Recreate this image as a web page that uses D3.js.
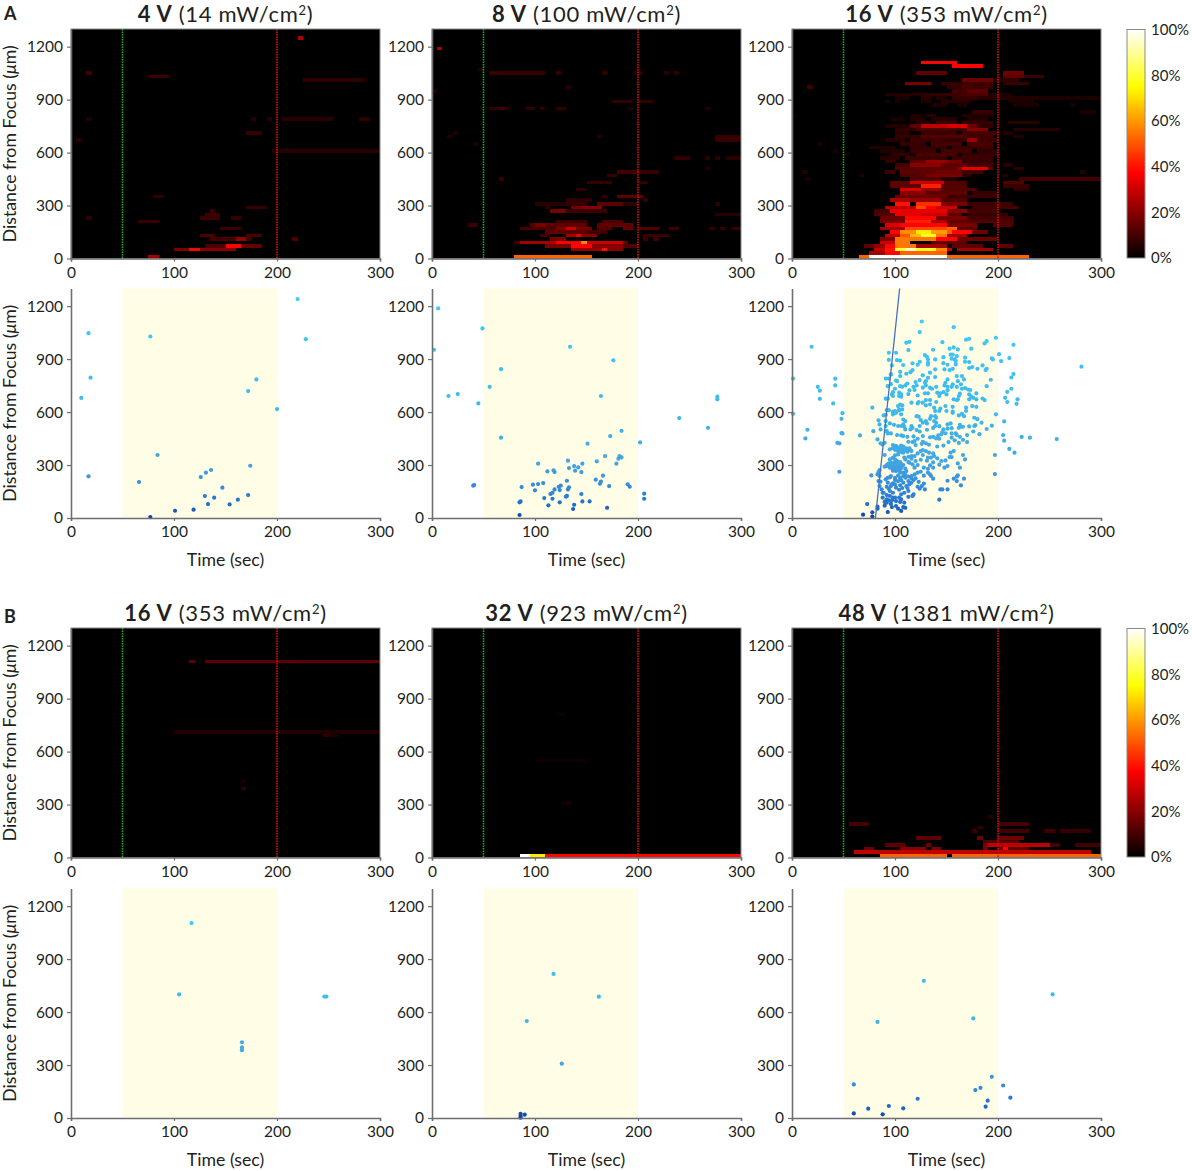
<!DOCTYPE html>
<html>
<head>
<meta charset="utf-8">
<style>
  html, body { margin: 0; padding: 0; background: #fff; }
  svg { display: block; }
  text { font-family: Lato, "Open Sans", sans-serif; fill: #231f20; }
</style>
</head>
<body>
<svg width="1192" height="1171"></svg>
<script src="https://d3js.org/d3.v7.min.js"></script>
<script>
// heat rows: [distance bin, t start, t end, percent]
var heatA4 = [
  [1240,220,225,25],[1040,15,20,10],[1020,75,95,9],[1000,225,285,7],
  [780,15,20,5],[780,175,180,6],[780,190,195,6],[780,205,255,6],[780,280,290,7],
  [700,170,185,8],[660,5,10,7],[600,195,300,6],[340,80,90,7],[280,170,190,8],
  [260,135,140,9],[240,130,145,9],[220,125,145,9],[220,155,165,8],[220,15,20,7],
  [200,65,85,8],[160,145,165,9],[120,125,140,11],[120,170,185,11],
  [100,135,160,10],[100,160,170,22],[100,170,175,10],[100,215,220,12],
  [60,130,150,11],[60,150,165,38],[60,165,185,15],
  [40,100,115,18],[40,115,125,38],[40,125,160,20],[0,75,85,24]
];
var heatA8 = [
  [1180,5,10,25],[1060,45,50,5],[1040,55,110,8],[1040,120,125,8],[1040,165,170,8],
  [1040,195,205,6],[1040,225,230,6],[1040,235,240,7],[960,130,135,6],[940,0,5,5],
  [880,175,195,7],[880,200,215,7],[840,55,75,7],[840,65,70,10],[840,90,100,7],
  [840,105,110,7],[840,120,130,7],[840,190,195,5],[840,265,270,6],
  [700,20,25,5],[680,15,20,5],[680,160,165,6],[680,275,300,8],[660,275,300,8],[640,40,45,5],
  [560,235,250,7],[560,265,270,6],[560,275,280,6],[560,285,300,6],[500,265,270,5],
  [480,180,200,10],[480,200,220,8],[460,170,180,8],[440,65,70,8],
  [420,150,175,8],[420,200,210,7],[380,140,150,7],[340,165,170,8],[340,180,205,14],
  [320,205,210,8],[320,130,155,7],
  [300,100,130,6],[300,130,150,8],[300,160,185,14],[300,185,200,7],[300,275,280,7],
  [280,110,115,7],[280,135,145,17],[280,145,165,20],
  [260,115,130,18],[260,130,170,9],[240,275,300,6],
  [200,120,150,9],[200,165,185,11],
  [180,35,45,9],[180,95,100,12],[180,100,110,18],[180,110,150,14],[180,160,195,14],
  [160,85,95,10],[160,95,120,11],[160,120,130,18],[160,130,140,30],[160,140,155,18],
  [160,160,175,12],[160,185,195,15],[160,200,220,12],[160,230,240,9],[160,270,275,8],
  [160,280,285,8],[160,290,300,8],
  [140,110,150,14],[140,150,170,10],
  [120,105,115,10],[120,130,140,24],[120,140,145,35],[120,145,160,20],[120,205,230,9],
  [100,115,130,18],[100,205,210,9],[100,215,220,9],
  [80,80,85,10],[80,85,120,24],[80,120,145,37],[80,145,150,58],[80,150,185,30],[80,185,190,14],
  [60,110,135,18],[60,135,155,38],[60,155,185,20],[60,185,200,12],
  [40,135,165,22],[40,165,170,40],[40,170,185,20],[0,80,155,52]
];
var heatA16 = [
  [1100,125,160,38],[1080,155,185,38],[1040,120,150,14],[1040,205,225,16],
  [1020,205,225,14],[1020,225,245,9],
  [1000,165,195,16],[1000,195,205,6],[1000,205,220,7],
  [980,110,135,18],[980,145,165,8],[980,165,195,9],[980,205,230,8],
  [960,15,20,10],[960,150,165,7],[960,165,175,11],[960,175,195,9],
  [940,155,170,10],[940,170,190,14],
  [920,90,125,5],[920,125,150,7],[920,150,165,9],[920,165,190,11],[920,190,205,6],[920,205,215,4],
  [900,100,115,4],[900,125,135,6],[900,140,150,5],[900,155,180,8],[900,180,195,6],[900,195,240,5],[900,240,300,4],
  [880,90,95,4],[880,100,105,4],[880,125,135,5],[880,145,175,6],[880,210,235,4],
  [860,135,150,5],[860,160,170,4],[860,215,240,4],[860,270,275,4],
  [820,175,195,8],[820,280,295,4],
  [800,115,125,5],[800,130,140,6],[800,165,195,5],[800,0,5,3],
  [780,95,110,4],[780,115,130,5],[780,135,160,6],[780,170,190,5],
  [760,120,135,6],[760,140,160,9],[760,165,195,8],[760,210,240,6],
  [740,90,115,5],[740,115,125,14],[740,125,150,28],[740,150,170,32],[740,170,180,16],[740,180,195,7],
  [720,100,120,7],[720,120,150,11],[720,150,170,10],[720,170,190,20],[720,215,260,6],
  [700,100,115,6],[700,125,160,9],[700,165,200,10],[700,205,215,5],
  [680,100,125,8],[680,125,170,12],[680,170,195,10],[680,215,225,5],
  [660,90,110,6],[660,115,150,9],[660,150,170,8],[660,170,180,22],[660,180,200,9],
  [640,105,130,8],[640,135,165,10],[640,170,195,11],[640,25,30,4],
  [620,75,100,5],[620,115,150,8],[620,155,195,9],
  [600,85,110,5],[600,115,140,9],[600,145,175,10],[600,180,200,7],[600,40,45,4],
  [580,95,115,7],[580,120,160,11],[580,165,200,8],[580,50,55,5],
  [560,85,105,6],[560,110,150,9],[560,155,195,9],
  [540,90,100,8],[540,115,130,14],[540,130,150,22],[540,150,165,18],[540,165,195,8],
  [520,100,115,10],[520,115,145,20],[520,145,170,14],[520,170,195,10],[520,205,215,6],
  [500,100,120,12],[500,120,160,14],[500,160,165,20],[500,165,190,34],[500,190,195,14],[500,215,225,6],
  [480,90,100,10],[480,105,140,14],[480,140,165,16],[480,165,185,10],[480,10,15,5],[480,280,285,5],
  [460,105,130,12],[460,130,165,18],[460,165,175,7],[460,205,210,6],[460,65,70,5],
  [440,115,145,12],[440,145,160,6],[440,220,300,10],[440,13,17,4],
  [420,95,115,14],[420,115,148,30],[420,148,170,12],[420,205,225,12],
  [400,95,125,14],[400,125,145,42],[400,145,170,12],[400,205,230,8],
  [380,105,125,32],[380,125,145,22],[380,145,180,12],[380,215,230,7],
  [360,105,130,20],[360,130,170,14],[360,175,200,8],
  [340,100,150,16],[340,150,200,9],
  [320,95,115,25],[320,115,145,22],[320,145,170,12],
  [300,100,115,40],[300,120,145,44],[300,145,170,18],[300,170,215,9],
  [280,90,120,28],[280,120,130,48],[280,130,140,38],[280,140,160,30],[280,175,220,10],
  [260,80,95,10],[260,95,150,34],[260,150,170,20],[260,170,200,10],
  [240,80,100,12],[240,100,125,34],[240,125,150,30],[240,150,165,14],[240,170,210,8],
  [220,85,110,16],[220,110,140,38],[220,140,170,18],[220,170,215,10],
  [200,85,110,18],[200,110,135,42],[200,135,150,25],[200,150,170,14],[200,170,215,12],
  [180,90,105,32],[180,105,150,38],[180,150,180,18],[180,195,215,12],
  [160,85,110,24],[160,110,150,48],[160,150,160,52],[160,160,180,14],
  [140,95,105,38],[140,105,120,58],[140,120,135,72],[140,135,150,60],[140,150,155,50],[140,155,175,38],[140,175,190,16],
  [120,90,105,28],[120,105,115,50],[120,115,125,65],[120,125,140,78],[120,140,150,55],[120,150,170,24],
  [100,85,100,18],[100,100,115,55],[100,115,140,55],[100,140,150,38],[100,150,160,38],[100,160,200,16],
  [80,85,100,30],[80,100,115,55],[80,135,170,14],
  [60,70,80,14],[60,80,90,22],[60,90,100,38],[60,100,120,55],[60,120,150,24],[60,155,185,14],[60,200,215,14],
  [40,80,90,28],[40,90,100,40],[40,100,110,78],[40,110,120,95],[40,120,140,78],[40,140,150,58],[40,150,155,30],[40,160,195,24],
  [20,75,90,24],[20,90,105,38],[20,105,150,52],
  [0,65,75,52],[0,75,150,100],[0,150,230,52]
];
var heatB16 = [
  [1100,115,120,14],[1100,130,300,14],[700,100,300,5],[680,245,250,7],[680,250,260,4],
  [420,165,170,4],[380,165,170,7]
];
var heatB32 = [
  [800,120,130,2],[540,100,150,2],[300,125,135,3],
  [0,85,95,100],[0,95,110,72],[0,110,300,38]
];
var heatB48 = [
  [220,190,195,5],[180,55,75,10],[180,200,230,10],[160,180,185,7],
  [140,175,180,9],[140,200,230,10],[140,245,255,9],[140,260,290,8],
  [100,120,145,14],[100,180,185,16],[100,200,225,16],[80,185,220,12],
  [60,90,110,14],[60,130,135,16],[60,185,190,18],[60,190,250,28],[60,250,260,10],[60,275,300,10],
  [40,70,80,16],[40,105,130,20],[40,135,145,18],[40,185,190,18],[40,200,205,14],[40,205,210,38],[40,210,230,14],
  [20,60,290,28],[0,85,150,52],[0,155,300,52]
];

// scatter points: [time, distance]
var ptsA4 = [[10,680],[17,1047],[19,795],[17,236],[66,204],[77,1028],[77,5],[84,357],[101,41],[119,47],[126,232],[130,124],[131,257],[133,79],[136,272],[139,115],[147,172],[154,77],[162,104],[172,130],[172,719],[174,296],[180,785],[200,617],[220,1240],[228,1013]];
var ptsA8 = [[6,1187],[2,953],[16,691],[25,702],[40,183],[41,187],[45,649],[49,1074],[56,743],[67,843],[67,455],[85,17],[85,89],[86,94],[87,175],[98,189],[100,157],[103,192],[103,308],[108,198],[109,113],[112,264],[113,72],[115,136],[117,143],[117,109],[118,270],[119,260],[119,162],[123,177],[124,89],[124,158],[125,183],[130,121],[131,125],[131,211],[132,162],[133,174],[132,325],[133,283],[134,970],[137,51],[138,75],[138,294],[139,268],[142,287],[145,260],[145,136],[146,308],[146,94],[151,421],[153,94],[159,217],[160,321],[163,194],[164,206],[164,691],[166,240],[168,351],[170,58],[172,181],[173,464],[176,893],[179,308],[181,336],[182,351],[184,343],[184,494],[190,191],[192,177],[202,428],[206,138],[206,109],[240,566],[268,511],[277,687],[277,672]];
var ptsA16 = [
  [1,790],[1,590],[19,970],[25,743],[27,721],[27,675],[40,649],[42,789],[42,751],[49,594],[48,562],[15,500],[13,451],[44,425],[46,423],[48,481],[49,479],[46,262],
  [66,468],[77,241],[78,625],[79,492],[73,79],[69,19],[78,32],[78,8],[83,64],[83,53],
  [281,857],[257,447],[231,455],[223,459],[216,370],[211,391],[206,438],[205,470],[197,357],[197,249],[198,587],[194,523],[189,504],[198,1021],[201,928],[203,889],[206,547],[209,657],[207,681],[209,715],[213,732],[213,796],[215,815],[211,906],[215,981],[219,672],[218,647],[193,783],[189,747],[189,845],[188,838],[194,904],[195,898],[189,1002],[187,989],[185,677],[187,668],
  [126,1113],[124,1053],[157,1081],[111,993],[114,998],[113,951],[146,996],[169,1010],[172,1015],[174,959],[153,959],[157,966],[161,955],[137,953],[129,923],[94,936],[101,936],[94,896],[97,864],[102,894],[105,892],[108,866],[117,876],[122,868],[124,885],[131,913],[132,898],[132,879],[132,868],[139,898],[147,911],[154,925],[156,925],[147,877],[148,842],[151,868],[153,838],[156,845],[159,870],[155,902],[158,898],[160,917],[159,889],[168,908],[168,885],[172,883],[172,849],[175,855],[180,845],[185,864],[111,817],[117,838],[115,826],[105,828],[96,813],[91,790],[94,790],[96,813],[101,779],[105,804],[139,842],[134,823],[132,794],[130,775],[139,798],[124,781],[127,808],[129,766],[151,785],[160,804],[165,804],[167,785],[161,775],[164,757],[160,743],
  [93,747],[96,758],[98,713],[100,732],[102,775],[105,747],[107,743],[110,751],[112,762],[118,743],[120,770],[121,751],[119,725],[114,723],[113,702],[127,738],[130,751],[134,738],[136,732],[140,743],[148,751],[149,766],[151,743],[155,743],[156,757],[141,710],[144,706],[147,713],[151,723],[150,700],[157,672],[160,668],[163,704],[165,732],[168,736],[171,728],[173,725],[172,700],[174,687],[176,681],[179,706],[179,672],[172,672],[161,672],[162,691],
  [91,676],[93,676],[98,691],[97,700],[104,710],[104,691],[106,687],[106,700],[116,653],[122,694],[123,657],[127,653],[130,668],[134,668],[134,643],[140,657],[143,691],[132,706],[129,706],[105,643],[107,638],[103,634],[92,611],[94,611],[98,602],[100,606],[104,609],[107,615],[122,649],[130,638],[138,625],[143,606],[144,619],[139,606],[149,634],[156,630],[156,602],[150,606],[169,625],[175,634],[179,630],[165,590],[162,581],[167,577],[169,606],[177,568],[178,526],[177,521],[172,519],[166,517],[164,517],[163,528],[162,511],[156,596],
  [89,581],[91,585],[98,587],[101,596],[104,615],[106,587],[108,558],[108,530],[109,517],[110,549],[106,521],[103,521],[99,528],[95,536],[91,549],[84,553],[85,530],[86,502],[91,521],[92,492],[93,479],[96,479],[102,470],[106,468],[108,464],[112,460],[110,502],[116,521],[115,502],[117,511],[121,577],[123,574],[125,555],[124,521],[121,498],[122,449],[119,436],[117,430],[127,464],[127,540],[130,549],[131,536],[134,562],[135,577],[139,577],[140,568],[138,549],[140,540],[139,521],[134,457],[137,460],[140,451],[142,468],[143,449],[145,474],[147,502],[146,487],[151,530],[154,536],[151,506],[155,509],[155,479],[159,479],[160,470],[163,460],[166,443],[130,423],[127,432],[120,413],
  [83,445],[86,423],[88,417],[90,426],[95,389],[98,413],[100,398],[101,408],[104,389],[106,398],[108,389],[111,394],[114,385],[108,370],[106,374],[103,360],[100,355],[90,357],[95,332],[98,341],[100,332],[102,323],[104,308],[100,313],[96,309],[93,304],[90,291],[92,294],[95,298],[98,294],[101,298],[105,298],[101,285],[98,276],[101,266],[105,276],[109,342],[110,332],[113,347],[116,351],[119,351],[122,366],[125,379],[127,385],[130,379],[133,370],[137,366],[127,357],[132,342],[135,342],[138,351],[141,338],[145,323],[149,326],[151,294],[154,370],[157,379],[153,345],[155,345],[166,357],[168,332],[161,309],[163,285],[120,323],[117,304],[114,313],[116,336],[113,317],[122,300],[128,285],[132,279],[134,298],[137,285],[132,257],[134,247],[135,238],[137,223],[119,285],[119,247],[122,257],[116,238],[111,266],[108,257],[105,257],[108,238],[110,228],[113,209],[116,200],[114,191],[111,181],[105,228],[103,209],[100,228],[96,238],[93,228],[85,272],[84,260],[83,247],[85,238],[84,209],[86,206],[85,181],[87,162],[91,219],[93,200],[96,181],[98,196],[101,172],[105,185],[108,200],[109,143],[113,153],[106,134],[104,115],[101,96],[98,143],[95,153],[92,177],[89,143],[88,115],[92,106],[95,125],[98,115],[92,87],[90,91],[88,143],[101,68],[105,91],[108,62],[103,53],[106,40],[110,58],[109,87],[93,34],[97,62],[122,177],[126,181],[129,162],[117,125],[118,134],[124,166],[143,104],[144,162],[146,162],[151,162],[151,211],[157,223],[160,234],[160,209],[164,185],[167,223],[161,242],
  // the two dense clumps near 300 and 390
  [92,300],[94,310],[96,300],[97,290],[99,305],[100,290],[102,285],[103,300],[104,292],[106,305],[97,312],[99,280],[103,272],[106,285],[95,285],[100,305],[102,312],[105,316],[98,268],[108,300],[110,280],
  [98,395],[100,386],[103,378],[104,400],[106,382],[108,405],[110,385],[112,375],[114,395],[116,380],[102,392],[106,410],
  [95,230],[100,215],[103,240],[106,215],[110,245],[113,235],[116,225],[118,215],[107,170],[112,170],[104,160],[92,130],[94,100],[97,100],[90,70],[96,80],[100,115],[106,105],[113,120],[97,190],[100,190],[94,165],
  // looser points right of the clumps
  [126,420],[133,415],[141,405],[147,410],[152,430],[158,440],[162,425],[170,430],[125,330],[131,325],[137,315],[143,302],[148,285],[125,262],[128,240],[120,225],[123,205],[128,195],[113,432],[118,462],[124,490],[131,500],[137,510],[143,520],[149,480],[155,455],[170,470],[176,490],[182,475],[184,540],[180,560]
];
var ptsB16 = [[117,1104],[105,700],[166,429],[166,400],[166,384],[246,688],[248,688]];
var ptsB32 = [[118,816],[162,687],[92,549],[126,308],[86,24],[86,11],[86,2],[90,19]];
var ptsB48 = [[128,777],[253,700],[176,564],[83,544],[194,233],[60,190],[205,184],[183,171],[178,158],[212,115],[122,109],[190,98],[94,68],[108,55],[74,53],[188,64],[60,26],[88,21]];

// the fitted onset line on 16 V, as [time, distance]
var fitLine = [[81,0],[104.5,1300]];

var titlesA = [["4 V"," (14 mW/cm","2",")"],["8 V"," (100 mW/cm","2",")"],["16 V"," (353 mW/cm","2",")"]];
var titlesB = [["16 V"," (353 mW/cm","2",")"],["32 V"," (923 mW/cm","2",")"],["48 V"," (1381 mW/cm","2",")"]];
var xTicks = [0,100,200,300];
var yTicks = [0,300,600,900,1200];
var barTicks = [0,20,40,60,80,100];
var stimOn = 50, stimOff = 200;

var svg = d3.select("svg");
var panelW = 309, panelH = 229.5;
var colX = [71, 432, 792];

var x = d3.scaleLinear().domain([0,300]).range([0,panelW]);
var y = d3.scaleLinear().domain([0,1300]).range([panelH,0]);
var hot = d3.scaleLinear().domain([0,37.5,75,100]).range(["#000000","#ff0000","#ffff00","#ffffff"]).clamp(true);
var dotColor = d3.scaleLinear().domain([0,60,150,300,600,1000])
  .range(["#0b3fae","#1d68c6","#2f86d6","#43a3e2","#3fb9ec","#3cc6f6"]);

function drawAxes(g) {
  var ax = g.append("g").attr("transform","translate(0,"+panelH+")")
    .call(d3.axisBottom(x).tickValues(xTicks).tickSize(3).tickPadding(5).tickFormat(d3.format("d")));
  var ay = g.append("g").call(d3.axisLeft(y).tickValues(yTicks).tickSize(4).tickPadding(4).tickSizeOuter(0).tickFormat(d3.format("d")));
  [ax,ay].forEach(function(a) {
    a.selectAll("path").attr("stroke","#6d6e70").attr("stroke-width",1.6);
    a.selectAll("line").attr("stroke","#6d6e70").attr("stroke-width",1.2);
    a.selectAll("text").style("font-size","15.5px").style("font-family","Lato, sans-serif").attr("fill","#231f20");
  });
}

function yLabel(g) {
  var t = g.append("text").attr("transform","translate(-55,"+(panelH/2)+") rotate(-90)")
    .attr("text-anchor","middle").style("font-size","17.7px");
  t.append("tspan").text("Distance from Focus (");
  t.append("tspan").attr("font-style","italic").text("\u03bc");
  t.append("tspan").text("m)");
}

function title(g, parts) {
  var t = g.append("text").attr("x",panelW/2).attr("y",-7.5).attr("text-anchor","middle")
    .style("font-size","22px").style("letter-spacing","0.7px");
  t.append("tspan").attr("font-weight",700).text(parts[0]);
  t.append("tspan").text(parts[1]);
  t.append("tspan").attr("dy",-7).style("font-size","13px").text(parts[2]);
  t.append("tspan").attr("dy",7).text(parts[3]);
}

function heatPanel(px, top, cells, parts, first) {
  var g = svg.append("g").attr("transform","translate("+px+","+top+")");
  g.append("rect").attr("width",panelW).attr("height",panelH).attr("fill","#000");
  g.selectAll("rect.cell").data(cells).join("rect").attr("class","cell")
    .attr("x",function(d){return x(d[1]);})
    .attr("width",function(d){return x(d[2])-x(d[1]);})
    .attr("y",function(d){return y(d[0]+20);})
    .attr("height",function(d){return y(d[0])-y(d[0]+20);})
    .attr("fill",function(d){return hot(d[3]);})
    .attr("shape-rendering","crispEdges");
  [[stimOn,"#19b319"],[stimOff,"#d60f0f"]].forEach(function(m) {
    g.append("line").attr("x1",x(m[0])).attr("x2",x(m[0])).attr("y1",0).attr("y2",panelH)
      .attr("stroke",m[1]).attr("stroke-width",1.6).attr("stroke-dasharray","1.5 1");
  });
  g.append("rect").attr("width",panelW).attr("height",panelH).attr("fill","none")
    .attr("stroke","#8a8a8a").attr("stroke-width",1);
  drawAxes(g);
  title(g, parts);
  if (first) yLabel(g);
}

function dotPanel(px, top, pts, first, line) {
  var g = svg.append("g").attr("transform","translate("+px+","+top+")");
  g.append("rect").attr("x",x(stimOn)).attr("width",x(stimOff)-x(stimOn)).attr("height",panelH).attr("fill","#fffde6");
  g.selectAll("circle").data(pts).join("circle")
    .attr("cx",function(d){return x(d[0]);})
    .attr("cy",function(d){return y(d[1]);})
    .attr("r",2.1)
    .attr("fill",function(d){return dotColor(d[1]);});
  if (line) {
    g.append("path").datum(line)
      .attr("d",d3.line().x(function(d){return x(d[0]);}).y(function(d){return y(d[1]);}))
      .attr("fill","none").attr("stroke","#4472c0").attr("stroke-width",1.3);
  }
  drawAxes(g);
  g.append("text").attr("x",panelW/2).attr("y",panelH+47.5).attr("text-anchor","middle").style("font-size","17.7px").text("Time (sec)");
  if (first) yLabel(g);
}

function colorBar(top, id) {
  var grad = svg.append("defs").append("linearGradient").attr("id",id)
    .attr("x1",0).attr("x2",0).attr("y1",1).attr("y2",0);
  [0,37.5,75,100].forEach(function(p) {
    grad.append("stop").attr("offset",p+"%").attr("stop-color",hot(p));
  });
  var h = 228.5;
  var s = d3.scaleLinear().domain([0,100]).range([h,0]);
  var g = svg.append("g").attr("transform","translate(1127,"+top+")");
  g.append("rect").attr("width",18).attr("height",h).attr("fill","url(#"+id+")").attr("stroke","#8a8a8a").attr("stroke-width",1);
  var a = g.append("g").attr("transform","translate(18,0)")
    .call(d3.axisRight(s).tickValues(barTicks).tickSize(0).tickPadding(6).tickFormat(function(d){return d+"%";}));
  a.select("path").remove();
  a.selectAll("text").style("font-size","15px").style("font-family","Lato, sans-serif").attr("fill","#231f20");
}

var rowA = 29, rowAs = 288.5, rowB = 628, rowBs = 888.5;
[heatA4,heatA8,heatA16].forEach(function(c,i){ heatPanel(colX[i],rowA,c,titlesA[i],i==0); });
[ptsA4,ptsA8,ptsA16].forEach(function(p,i){ dotPanel(colX[i],rowAs,p,i==0,i==2?fitLine:null); });
[heatB16,heatB32,heatB48].forEach(function(c,i){ heatPanel(colX[i],rowB,c,titlesB[i],i==0); });
[ptsB16,ptsB32,ptsB48].forEach(function(p,i){ dotPanel(colX[i],rowBs,p,i==0,null); });
colorBar(29.5,"barA");
colorBar(628.5,"barB");

svg.append("text").attr("x",4).attr("y",20).attr("font-weight",700).style("font-size","18px").text("A");
svg.append("text").attr("x",4).attr("y",623).attr("font-weight",700).style("font-size","18px").text("B");
</script>
</body>
</html>
